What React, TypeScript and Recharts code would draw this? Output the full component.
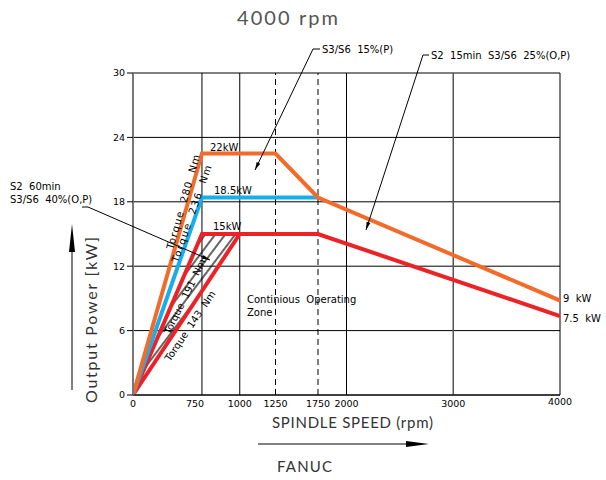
import {
  ComposedChart, Line, Area,
  XAxis, YAxis, CartesianGrid, ReferenceLine,
} from 'recharts'

// rpm ticks and where the drawing places them on a 0–4000 run (the sheet is not to scale)
const X_TICKS = [0, 750, 1000, 1250, 1750, 2000, 3000, 4000]
const X_TICK_POS = [0, 646, 1000, 1335, 1733, 2000, 3000, 4000]
const Y_TICKS = [0, 6, 12, 18, 24, 30]
const SOLID_X = [750, 1000, 2000, 3000, 4000]
const DASHED_X = [1250, 1750]

// S3/S6 15%(P) – orange
const S3_15_RPM = [0, 750, 1250, 1750, 4000]
const S3_15_KW = [0, 22.5, 22.5, 18.4, 8.8]
// S2 15min S3/S6 25%(O,P) – blue
const S2_15_RPM = [0, 750, 1750]
const S2_15_KW = [0, 18.4, 18.4]
// S2 60min S3/S6 40%(O,P) – red
const S2_60_RPM = [0, 750, 1750, 4000]
const S2_60_KW = [0, 15, 15, 7.35]
// continuous, torque 143 Nm edge – red
const CONT_RPM = [0, 1000]
const CONT_KW = [0, 15]

const ORANGE = '#f26b2a'
const BLUE = '#19aee9'
const RED = '#ec2227'
const FONT = '"DejaVu Sans", sans-serif'

function toAxis(rpm: number) {
  for (let i = 1; i < X_TICKS.length; i++) {
    if (rpm <= X_TICKS[i]) {
      const t = (rpm - X_TICKS[i - 1]) / (X_TICKS[i] - X_TICKS[i - 1])
      return X_TICK_POS[i - 1] + t * (X_TICK_POS[i] - X_TICK_POS[i - 1])
    }
  }
  return X_TICK_POS[X_TICK_POS.length - 1]
}

const rows = (rpm: number[], kw: number[]) => rpm.map((r, i) => ({ x: toAxis(r), kw: kw[i] }))

// hatched band between the 191 Nm and 143 Nm lines, capped at 15 kW
const contAt = (ax: number) => CONT_KW[1] * ax / toAxis(CONT_RPM[1])
const hatch = [
  { x: 0, band: [0, 0] },
  { x: toAxis(750), band: [contAt(toAxis(750)), S2_60_KW[1]] },
  { x: toAxis(1000), band: [CONT_KW[1], CONT_KW[1]] },
]

function XTick({ x, y, payload }: any) {
  const idx = X_TICK_POS.indexOf(payload.value)
  const label = X_TICKS[idx]
  const dx = label === 750 ? -7 : 0
  const dy = label === 4000 ? -2 : 0
  return (
    <text x={x + dx} y={y + 4 + dy} textAnchor="middle" fontSize={9.5} fontFamily={FONT} fill="#000">
      {label}
    </text>
  )
}

function Leader({ pts }: { pts: [number, number][] }) {
  const [x1, y1] = pts[pts.length - 2]
  const [x2, y2] = pts[pts.length - 1]
  const len = Math.hypot(x2 - x1, y2 - y1)
  const ux = (x2 - x1) / len, uy = (y2 - y1) / len
  const bx = x2 - ux * 8, by = y2 - uy * 8
  const head = `${x2},${y2} ${bx - uy * 2},${by + ux * 2} ${bx + uy * 2},${by - ux * 2}`
  return (
    <g>
      <polyline points={pts.map(p => p.join(',')).join(' ')} fill="none" stroke="#000" strokeWidth={1} />
      <polygon points={head} fill="#000" />
    </g>
  )
}

export default function App() {
  const small = { fontSize: 10, fontFamily: FONT, fill: '#000', xmlSpace: 'preserve', style: { whiteSpace: 'pre' as const } }
  return (
    <div style={{ position: 'absolute', left: 0, top: 0, width: 606, height: 480, background: '#fff' }}>
      <ComposedChart width={606} height={480} margin={{ top: 73, right: 46, left: 93, bottom: 55 }}>
        <defs>
          <pattern id="hatch" width="8" height="8" patternUnits="userSpaceOnUse" patternTransform="rotate(37)">
            <line x1="1" y1="0" x2="1" y2="8" stroke="#111" strokeWidth={1.3} />
          </pattern>
        </defs>
        <CartesianGrid vertical={false} stroke="#000" strokeWidth={1} />
        <XAxis
          type="number" dataKey="x" domain={[0, 4000]} ticks={X_TICK_POS} height={30} interval={0}
          tick={<XTick />} tickLine={false} axisLine={{ stroke: '#000', strokeWidth: 1.2 }}
          allowDataOverflow
        />
        <YAxis
          type="number" domain={[0, 30]} ticks={Y_TICKS} width={40}
          tick={{ fontSize: 9.5, fontFamily: FONT, fill: '#000' }}
          tickLine={{ stroke: '#000' }} tickSize={6}
          axisLine={{ stroke: '#777', strokeWidth: 2 }}
        />
        {SOLID_X.map(v => (
          <ReferenceLine key={v} x={toAxis(v)} stroke={v === 3000 ? '#555' : '#000'} strokeWidth={v === 3000 ? 1.5 : 1} />
        ))}
        {DASHED_X.map(v => (
          <ReferenceLine key={v} x={toAxis(v)} stroke="#000" strokeDasharray="6 4" strokeWidth={1} />
        ))}
        <Area data={hatch} dataKey="band" type="linear" stroke="none" fill="url(#hatch)" fillOpacity={1} isAnimationActive={false} />
        <Line data={rows(CONT_RPM, CONT_KW)} dataKey="kw" type="linear" stroke={RED} strokeWidth={4} dot={false} isAnimationActive={false} />
        <Line data={rows(S2_60_RPM, S2_60_KW)} dataKey="kw" type="linear" stroke={RED} strokeWidth={4} dot={false} isAnimationActive={false} />
        <Line data={rows(S2_15_RPM, S2_15_KW)} dataKey="kw" type="linear" stroke={BLUE} strokeWidth={4} dot={false} isAnimationActive={false} />
        <Line data={rows(S3_15_RPM, S3_15_KW)} dataKey="kw" type="linear" stroke={ORANGE} strokeWidth={4} dot={false} isAnimationActive={false} />
      </ComposedChart>

      <svg width={606} height={480} style={{ position: 'absolute', left: 0, top: 0, pointerEvents: 'none' }}>
        <text x={237} y={25} fontSize={20} fontFamily="Lato, sans-serif" fill="#555" textLength={101} lengthAdjust="spacing">4000 rpm</text>

        <text x={322} y={53} {...small}>S3/S6  15%(P)</text>
        <Leader pts={[[320, 49], [313, 49], [255, 170]]} />
        <text x={431} y={59} {...small}>S2  15min  S3/S6  25%(O,P)</text>
        <Leader pts={[[429, 55], [423, 55], [366, 230]]} />
        <text x={10} y={190} {...small}>S2  60min</text>
        <text x={10} y={203} {...small}>S3/S6  40%(O,P)</text>
        <Leader pts={[[82, 207], [88, 207], [210, 260]]} />

        <text x={210} y={151} {...small}>22kW</text>
        <text x={214} y={194} {...small}>18.5kW</text>
        <text x={213} y={230} {...small}>15kW</text>
        <text x={563} y={302} {...small}>9  kW</text>
        <text x={563} y={322} {...small}>7.5  kW</text>

        <text x={247} y={303} {...small}>Continious  Operating</text>
        <text x={247} y={316} {...small}>Zone</text>

        <text transform="translate(173,250) rotate(-74)" {...small} textLength={98} lengthAdjust="spacing">Torque  280  Nm</text>
        <text transform="translate(178,263) rotate(-70.7)" {...small} textLength={102} lengthAdjust="spacing">Torque  236  Nm</text>
        <text transform="translate(170,335) rotate(-64)" {...small}>Torque  191  Nm</text>
        <text transform="translate(170,362) rotate(-56)" {...small}>Torque  143  Nm</text>

        <text transform="translate(97,320) rotate(-90)" textAnchor="middle" fontSize={16} fontFamily="Lato, sans-serif" fill="#333" textLength={166} lengthAdjust="spacing">Output  Power  [kW]</text>
        <line x1={72} y1={390} x2={72} y2={250} stroke="#000" strokeWidth={1} />
        <polygon points="72,224 69,252 75,252" fill="#000" />

        <text x={272} y={428} fontSize={15} fontFamily="Lato, sans-serif" fill="#333" textLength={161} lengthAdjust="spacing">SPINDLE  SPEED  (rpm)</text>
        <line x1={258} y1={444} x2={408} y2={444} stroke="#000" strokeWidth={1} />
        <polygon points="429,444 406,441 406,447" fill="#000" />
        <text x={277} y={472} fontSize={15} fontFamily="Lato, sans-serif" fill="#333" textLength={55} lengthAdjust="spacing">FANUC</text>
      </svg>
    </div>
  )
}
